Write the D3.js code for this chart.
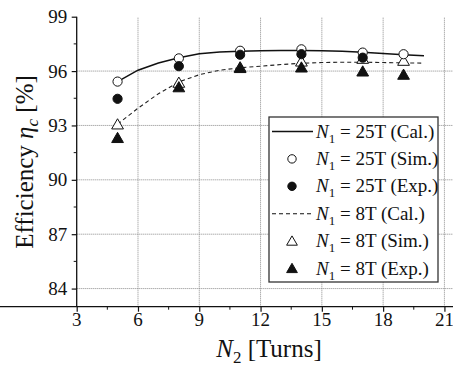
<!DOCTYPE html>
<html>
<head>
<meta charset="utf-8">
<script src="https://cdn.jsdelivr.net/npm/d3@7"></script>
</head>
<body style="margin:0; background:#fff">
<div id="chart"></div>
<script>
// N2 values and efficiencies
var calX = [5, 6, 7, 8, 9, 10, 11, 12, 13, 14, 15, 16, 17, 18, 19, 20];
var cal25 = [95.42, 96.05, 96.45, 96.74, 96.95, 97.05, 97.1, 97.12, 97.13, 97.13, 97.12, 97.09, 97.04, 96.97, 96.9, 96.85];
var cal8 = [93.07, 93.95, 94.75, 95.4, 95.8, 96.05, 96.18, 96.27, 96.36, 96.43, 96.47, 96.49, 96.49, 96.47, 96.45, 96.44];

var ptX = [5, 8, 11, 14, 17, 19];
var sim25 = [95.42, 96.7, 97.12, 97.2, 97.02, 96.93];
var exp25 = [94.47, 96.27, 96.9, 96.93, 96.74];
var sim8 = [93.05, 95.35, 96.2, 96.52, 96.67, 96.56];
var exp8 = [92.3, 95.1, 96.16, 96.19, 95.97, 95.79];

var xTicks = [3, 6, 9, 12, 15, 18, 21];
var yTicks = [84, 87, 90, 93, 96, 99];

var legendItems = [
	{n: "25T", tag: "(Cal.)", kind: "solid"},
	{n: "25T", tag: "(Sim.)", kind: "circleOpen"},
	{n: "25T", tag: "(Exp.)", kind: "circleFilled"},
	{n: "8T", tag: "(Cal.)", kind: "dashed"},
	{n: "8T", tag: "(Sim.)", kind: "triOpen"},
	{n: "8T", tag: "(Exp.)", kind: "triFilled"}
];

var width = 453,
	height = 367,
	serif = '"Liberation Serif"';

var x = d3.scaleLinear().domain([3, 21.42]).range([76.7, 453]);
var y = d3.scaleLinear().domain([83, 99]).range([306.7, 16.7]);

var svg = d3.select('#chart').append('svg')
	.attr('width', width)
	.attr('height', height)
	.style('font-family', serif);

// grid
var grid = svg.append('g').attr('class', 'grid');
grid.selectAll('.gx').data(xTicks.slice(1))
	.enter().append('line')
	.attr('x1', function(d) { return x(d); })
	.attr('x2', function(d) { return x(d); })
	.attr('y1', y(83)).attr('y2', y(99))
	.attr('stroke', '#8a8a8a').attr('stroke-width', 1)
	.attr('stroke-dasharray', '1,1');
grid.selectAll('.gy').data(yTicks.slice(0, -1))
	.enter().append('line')
	.attr('x1', x(3)).attr('x2', width)
	.attr('y1', function(d) { return y(d); })
	.attr('y2', function(d) { return y(d); })
	.attr('stroke', '#8a8a8a').attr('stroke-width', 1)
	.attr('stroke-dasharray', '1,1');

// axes, labels added by hand so they keep the serif face
var xAxis = svg.append('g')
	.attr('transform', 'translate(0,' + y(83) + ')')
	.call(d3.axisBottom(x).tickValues(xTicks).tickSize(5).tickFormat(''));
xAxis.append('g').selectAll('line').data([4.5, 7.5, 10.5, 13.5, 16.5, 19.5])
	.enter().append('line')
	.attr('x1', function(d) { return x(d); })
	.attr('x2', function(d) { return x(d); })
	.attr('y1', 0).attr('y2', 3)
	.attr('stroke', '#111');
svg.append('g').selectAll('text').data(xTicks)
	.enter().append('text')
	.attr('x', function(d) { return x(d); })
	.attr('y', y(83) + 19)
	.attr('text-anchor', 'middle')
	.style('font-size', '19px')
	.text(function(d) { return d; });

var yAxis = svg.append('g')
	.attr('transform', 'translate(' + x(3) + ',0)')
	.call(d3.axisLeft(y).tickValues(yTicks).tickSize(5).tickFormat(''));
yAxis.append('g').selectAll('line').data([85.5, 88.5, 91.5, 94.5, 97.5])
	.enter().append('line')
	.attr('x1', 0).attr('x2', -3)
	.attr('y1', function(d) { return y(d); })
	.attr('y2', function(d) { return y(d); })
	.attr('stroke', '#111');
svg.append('g').selectAll('text').data(yTicks)
	.enter().append('text')
	.attr('x', x(3) - 9.5)
	.attr('y', function(d) { return y(d) + 6.5; })
	.attr('text-anchor', 'end')
	.style('font-size', '19px')
	.text(function(d) { return d; });

[xAxis, yAxis].forEach(function(a) {
	a.select('.domain').attr('stroke', '#111').attr('stroke-width', 1.3)
		.attr('d', a === xAxis ? 'M0,0H' + width : 'M0,' + y(83) + 'V' + y(99));
	a.selectAll('.tick line').attr('stroke', '#111').attr('stroke-width', 1.2);
	a.selectAll('.tick text').remove();
});

// curves
var line = d3.line()
	.x(function(d) { return x(d[0]); })
	.y(function(d) { return y(d[1]); });

svg.append('path')
	.datum(d3.zip(calX, cal8))
	.attr('d', line)
	.attr('fill', 'none')
	.attr('stroke', '#222')
	.attr('stroke-width', 1.1)
	.attr('stroke-dasharray', '4,3');

svg.append('path')
	.datum(d3.zip(calX, cal25))
	.attr('d', line)
	.attr('fill', 'none')
	.attr('stroke', '#111')
	.attr('stroke-width', 1.5);

var tri = d3.symbol().type(d3.symbolTriangle).size(60);

function triangles(xs, ys, fill) {
	svg.append('g').selectAll('path').data(d3.zip(xs, ys))
		.enter().append('path')
		.attr('d', tri)
		.attr('transform', function(d) { return 'translate(' + x(d[0]) + ',' + (y(d[1]) + 1) + ')'; })
		.attr('fill', fill)
		.attr('stroke', '#111')
		.attr('stroke-width', 1);
}

function circles(xs, ys, fill) {
	svg.append('g').selectAll('circle').data(d3.zip(xs, ys))
		.enter().append('circle')
		.attr('cx', function(d) { return x(d[0]); })
		.attr('cy', function(d) { return y(d[1]); })
		.attr('r', 4.6)
		.attr('fill', fill)
		.attr('stroke', '#111')
		.attr('stroke-width', 1);
}

triangles(ptX, sim8, '#fff');
triangles(ptX, exp8, '#111');
circles(ptX, sim25, '#fff');
circles(ptX.slice(0, exp25.length), exp25, '#111');

// legend
var legend = svg.append('g').attr('transform', 'translate(269,117)');
legend.append('rect')
	.attr('width', 169).attr('height', 165)
	.attr('fill', '#fff')
	.attr('stroke', '#333')
	.attr('stroke-width', 1.3);

var rows = legend.selectAll('.row').data(legendItems)
	.enter().append('g')
	.attr('class', 'row')
	.attr('transform', function(d, i) { return 'translate(0,' + (14.5 + i * 27.4) + ')'; });

rows.each(function(d) {
	var g = d3.select(this);
	if (d.kind === 'solid' || d.kind === 'dashed') {
		g.append('line')
			.attr('x1', 3).attr('x2', 44)
			.attr('stroke', '#111')
			.attr('stroke-width', d.kind === 'solid' ? 1.5 : 1.1)
			.attr('stroke-dasharray', d.kind === 'dashed' ? '4,3' : null);
	} else if (d.kind === 'circleOpen' || d.kind === 'circleFilled') {
		g.append('circle').attr('cx', 23).attr('r', 4.2)
			.attr('fill', d.kind === 'circleOpen' ? '#fff' : '#111')
			.attr('stroke', '#111');
	} else {
		g.append('path').attr('d', d3.symbol().type(d3.symbolTriangle).size(50))
			.attr('transform', 'translate(23,1)')
			.attr('fill', d.kind === 'triOpen' ? '#fff' : '#111')
			.attr('stroke', '#111');
	}
	var t = g.append('text').attr('x', 47).attr('y', 6).style('font-size', '19px');
	t.append('tspan').style('font-style', 'italic').text('N');
	t.append('tspan').attr('dy', 5).style('font-size', '13px').text('1');
	t.append('tspan').attr('dy', -5).text(' = ' + d.n + ' ' + d.tag);
});

// axis titles
var xt = svg.append('text')
	.attr('x', 269).attr('y', 357)
	.attr('text-anchor', 'middle')
	.style('font-size', '25px');
xt.append('tspan').style('font-style', 'italic').text('N');
xt.append('tspan').attr('dy', 6).style('font-size', '17px').text('2');
xt.append('tspan').attr('dy', -6).text(' [Turns]');

var yt = svg.append('text')
	.attr('transform', 'translate(33,162) rotate(-90)')
	.attr('text-anchor', 'middle')
	.style('font-size', '25px');
yt.append('tspan').text('Efficiency ');
yt.append('tspan').style('font-style', 'italic').text('η');
yt.append('tspan').attr('dy', 5).style('font-size', '17px').style('font-style', 'italic').text('c');
yt.append('tspan').attr('dy', -5).text(' [%]');

svg.selectAll('text').style('font-family', serif).style('fill', '#111');
</script>
</body>
</html>
